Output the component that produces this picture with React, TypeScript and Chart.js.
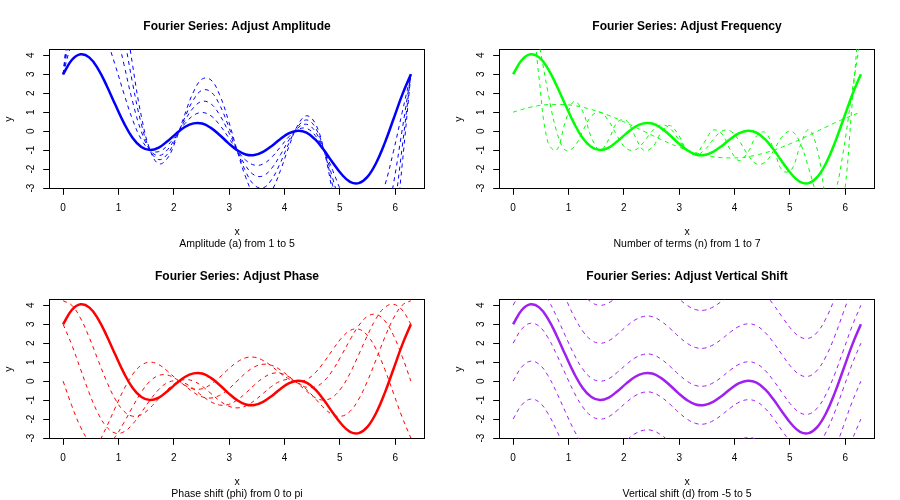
import React, { useEffect, useRef } from 'react';
import { Chart, registerables } from 'chart.js';

Chart.register(...registerables);

// ---- data (x sampled on [0, 2π]) ----
const X = [0, 0.157, 0.314, 0.471, 0.628, 0.785, 0.942, 1.1, 1.257, 1.414, 1.571, 1.728, 1.885, 2.042, 2.199, 2.356, 2.513, 2.67, 2.827, 2.985, 3.142, 3.299, 3.456, 3.613, 3.77, 3.927, 4.084, 4.241, 4.398, 4.555, 4.712, 4.869, 5.027, 5.184, 5.341, 5.498, 5.655, 5.812, 5.969, 6.126, 6.283];
const X_TICKS = [0, 1, 2, 3, 4, 5, 6];
const Y_TICKS = [-3, -2, -1, 0, 1, 2, 3, 4];
const Y_MIN = -3.04;
const Y_MAX = 4.32;

const BASE = [3.0, 3.75, 4.05, 3.89, 3.3, 2.41, 1.4, 0.42, -0.36, -0.84, -1.0, -0.87, -0.53, -0.13, 0.22, 0.41, 0.4, 0.17, -0.2, -0.63, -1.0, -1.23, -1.26, -1.09, -0.78, -0.41, -0.11, 0.02, -0.08, -0.44, -1.0, -1.65, -2.26, -2.67, -2.74, -2.41, -1.68, -0.62, 0.64, 1.91, 3.0];

// amplitude a = 2..5
const AMP_2 = [3, 4.67, 5.76, 6.14, 5.79, 4.83, 3.47, 1.97, 0.59, -0.44, -1, -1.08, -0.76, -0.2, 0.39, 0.83, 0.98, 0.81, 0.33, -0.32, -1, -1.53, -1.79, -1.73, -1.37, -0.83, -0.28, 0.09, 0.14, -0.23, -1, -2.06, -3.21, -4.21, -4.81, -4.83, -4.17, -2.87, -1.06, 0.99, 3];
const AMP_3 = [3, 5.59, 7.47, 8.39, 8.28, 7.24, 5.54, 3.51, 1.54, -0.03, -1, -1.29, -0.98, -0.28, 0.56, 1.24, 1.57, 1.44, 0.86, -0.02, -1, -1.83, -2.32, -2.36, -1.95, -1.24, -0.45, 0.17, 0.36, -0.02, -1, -2.47, -4.16, -5.75, -6.88, -7.24, -6.66, -5.12, -2.77, 0.07, 3];
const AMP_4 = [3, 6.51, 9.17, 10.64, 10.77, 9.66, 7.6, 5.05, 2.5, 0.37, -1, -1.5, -1.21, -0.35, 0.72, 1.66, 2.16, 2.07, 1.39, 0.28, -1, -2.13, -2.85, -2.99, -2.54, -1.66, -0.61, 0.24, 0.59, 0.2, -1, -2.87, -5.11, -7.3, -8.95, -9.66, -9.15, -7.37, -4.48, -0.85, 3];
const AMP_5 = [3, 7.43, 10.88, 12.89, 13.26, 12.07, 9.67, 6.6, 3.45, 0.78, -1, -1.72, -1.43, -0.43, 0.89, 2.07, 2.75, 2.7, 1.92, 0.58, -1, -2.43, -3.38, -3.62, -3.13, -2.07, -0.78, 0.32, 0.81, 0.41, -1, -3.28, -6.06, -8.84, -11.02, -12.07, -11.64, -9.62, -6.18, -1.77, 3];

// number of terms n = 1, 3, 5, 7
const TERMS_1 = [1.0, 1.14, 1.26, 1.35, 1.4, 1.41, 1.4, 1.35, 1.26, 1.14, 1.0, 0.83, 0.64, 0.44, 0.22, 0, -0.22, -0.44, -0.64, -0.83, -1.0, -1.14, -1.26, -1.35, -1.4, -1.41, -1.4, -1.35, -1.26, -1.14, -1.0, -0.83, -0.64, -0.44, -0.22, 0, 0.22, 0.44, 0.64, 0.83, 1.0];
const TERMS_5 = [5, 6.56, 6.31, 4.53, 2.08, 0, -1.0, -0.84, 0.0, 0.79, 1.0, 0.53, -0.27, -0.9, -1.0, -0.59, 0, 0.33, 0.16, -0.41, -1.0, -1.25, -1.0, -0.45, 0, 0, -0.51, -1.24, -1.73, -1.63, -1.0, -0.26, 0, -0.61, -1.96, -3.41, -4.08, -3.29, -1.0, 2.13, 5];
const TERMS_7 = [7, 9.3, 7.18, 2.74, -0.58, -1.0, 0.48, 1.57, 1.04, -0.33, -1.0, -0.43, 0.48, 0.57, -0.25, -1.0, -0.86, -0.1, 0.3, -0.19, -1.0, -1.19, -0.58, 0.05, -0.14, -1.0, -1.55, -1.12, -0.25, -0.07, -1.0, -2.09, -2.04, -0.8, 0.08, -1.0, -3.66, -5.38, -3.66, 1.47, 7];

// phase phi = pi/4, pi/2, 3pi/4, pi
const PHASE_1 = [4.24, 4.0, 3.32, 2.31, 1.14, 0, -0.95, -1.59, -1.85, -1.77, -1.41, -0.92, -0.44, -0.08, 0.08, 0, -0.27, -0.65, -1.03, -1.31, -1.41, -1.31, -1.03, -0.65, -0.27, 0, 0.08, -0.08, -0.44, -0.92, -1.41, -1.77, -1.85, -1.59, -0.95, 0, 1.14, 2.31, 3.32, 4.0, 4.24];
const PHASE_2 = [3.0, 1.91, 0.64, -0.62, -1.68, -2.41, -2.74, -2.67, -2.26, -1.65, -1.0, -0.44, -0.08, 0.02, -0.11, -0.41, -0.78, -1.09, -1.26, -1.23, -1.0, -0.63, -0.2, 0.17, 0.4, 0.41, 0.22, -0.13, -0.53, -0.87, -1.0, -0.84, -0.36, 0.42, 1.4, 2.41, 3.3, 3.89, 4.05, 3.75, 3.0];
const PHASE_3 = [0, -1.3, -2.41, -3.18, -3.52, -3.41, -2.93, -2.18, -1.35, -0.57, 0, 0.3, 0.32, 0.11, -0.24, -0.59, -0.83, -0.89, -0.75, -0.43, 0, 0.43, 0.75, 0.89, 0.83, 0.59, 0.24, -0.11, -0.32, -0.3, 0, 0.57, 1.35, 2.18, 2.93, 3.41, 3.52, 3.18, 2.41, 1.3, 0];
const PHASE_4 = [-3.0, -3.75, -4.05, -3.89, -3.3, -2.41, -1.4, -0.42, 0.36, 0.84, 1.0, 0.87, 0.53, 0.13, -0.22, -0.41, -0.4, -0.17, 0.2, 0.63, 1.0, 1.23, 1.26, 1.09, 0.78, 0.41, 0.11, -0.02, 0.08, 0.44, 1.0, 1.65, 2.26, 2.67, 2.74, 2.41, 1.68, 0.62, -0.64, -1.91, -3.0];

// vertical shift d = -5, -3, -1, 1, 3, 5
const SHIFT_M5 = [-2.0, -1.25, -0.95, -1.11, -1.7, -2.59, -3.6, -4.58, -5.36, -5.84, -6.0, -5.87, -5.53, -5.13, -4.78, -4.59, -4.6, -4.83, -5.2, -5.63, -6.0, -6.23, -6.26, -6.09, -5.78, -5.41, -5.11, -4.98, -5.08, -5.44, -6.0, -6.65, -7.26, -7.67, -7.74, -7.41, -6.68, -5.62, -4.36, -3.09, -2.0];
const SHIFT_M3 = [0.0, 0.75, 1.05, 0.89, 0.3, -0.59, -1.6, -2.58, -3.36, -3.84, -4.0, -3.87, -3.53, -3.13, -2.78, -2.59, -2.6, -2.83, -3.2, -3.63, -4.0, -4.23, -4.26, -4.09, -3.78, -3.41, -3.11, -2.98, -3.08, -3.44, -4.0, -4.65, -5.26, -5.67, -5.74, -5.41, -4.68, -3.62, -2.36, -1.09, 0.0];
const SHIFT_M1 = [2.0, 2.75, 3.05, 2.89, 2.3, 1.41, 0.4, -0.58, -1.36, -1.84, -2.0, -1.87, -1.53, -1.13, -0.78, -0.59, -0.6, -0.83, -1.2, -1.63, -2.0, -2.23, -2.26, -2.09, -1.78, -1.41, -1.11, -0.98, -1.08, -1.44, -2.0, -2.65, -3.26, -3.67, -3.74, -3.41, -2.68, -1.62, -0.36, 0.91, 2.0];
const SHIFT_P1 = [4.0, 4.75, 5.05, 4.89, 4.3, 3.41, 2.4, 1.42, 0.64, 0.16, 0.0, 0.13, 0.47, 0.87, 1.22, 1.41, 1.4, 1.17, 0.8, 0.37, 0.0, -0.23, -0.26, -0.09, 0.22, 0.59, 0.89, 1.02, 0.92, 0.56, 0.0, -0.65, -1.26, -1.67, -1.74, -1.41, -0.68, 0.38, 1.64, 2.91, 4.0];
const SHIFT_P3 = [6.0, 6.75, 7.05, 6.89, 6.3, 5.41, 4.4, 3.42, 2.64, 2.16, 2.0, 2.13, 2.47, 2.87, 3.22, 3.41, 3.4, 3.17, 2.8, 2.37, 2.0, 1.77, 1.74, 1.91, 2.22, 2.59, 2.89, 3.02, 2.92, 2.56, 2.0, 1.35, 0.74, 0.33, 0.26, 0.59, 1.32, 2.38, 3.64, 4.91, 6.0];
const SHIFT_P5 = [8.0, 8.75, 9.05, 8.89, 8.3, 7.41, 6.4, 5.42, 4.64, 4.16, 4.0, 4.13, 4.47, 4.87, 5.22, 5.41, 5.4, 5.17, 4.8, 4.37, 4.0, 3.77, 3.74, 3.91, 4.22, 4.59, 4.89, 5.02, 4.92, 4.56, 4.0, 3.35, 2.74, 2.33, 2.26, 2.59, 3.32, 4.38, 5.64, 6.91, 8.0];

const PANELS = [
  { title: 'Fourier Series: Adjust Amplitude', sub: 'Amplitude (a) from 1 to 5', color: '#0000FF', dashed: [AMP_2, AMP_3, AMP_4, AMP_5] },
  { title: 'Fourier Series: Adjust Frequency', sub: 'Number of terms (n) from 1 to 7', color: '#00FF00', dashed: [TERMS_1, TERMS_5, TERMS_7] },
  { title: 'Fourier Series: Adjust Phase', sub: 'Phase shift (phi) from 0 to pi', color: '#FF0000', dashed: [PHASE_1, PHASE_2, PHASE_3, PHASE_4] },
  { title: 'Fourier Series: Adjust Vertical Shift', sub: 'Vertical shift (d) from -5 to 5', color: '#A020F0', dashed: [SHIFT_M5, SHIFT_M3, SHIFT_M1, SHIFT_P1, SHIFT_P3, SHIFT_P5] },
];

const FONT = "'Liberation Sans', Arial, sans-serif";

const framePlugin = {
  id: 'frame',
  beforeDatasetsDraw(chart: any) {
    const { ctx, chartArea } = chart;
    const l = Math.round(chartArea.left) + 0.5;
    const t = Math.round(chartArea.top) + 0.5;
    const r = Math.round(chartArea.right) - 0.5;
    const b = Math.round(chartArea.bottom) - 0.5;
    ctx.save();
    ctx.strokeStyle = '#000';
    ctx.lineWidth = 1;
    ctx.strokeRect(l, t, r - l, b - t);
    ctx.restore();
  },
};

function Panel({ cfg }: { cfg: any }) {
  const ref = useRef<HTMLCanvasElement>(null);
  useEffect(() => {
    const toPts = (ys: number[]) => X.map((x, i) => ({ x, y: ys[i] }));
    const datasets: any[] = cfg.dashed.map((ys: number[]) => ({
      data: toPts(ys),
      borderColor: cfg.color,
      borderWidth: 1,
      borderDash: [4, 4],
      pointRadius: 0,
      tension: 0.4,
      fill: false,
    }));
    datasets.push({
      data: toPts(BASE),
      borderColor: cfg.color,
      borderWidth: 2.5,
      pointRadius: 0,
      tension: 0.4,
      fill: false,
    });
    const chart = new Chart(ref.current as HTMLCanvasElement, {
      type: 'line',
      data: { datasets },
      options: {
        animation: false,
        responsive: false,
        events: [],
        layout: { padding: { left: 0, right: 25.2, top: 0, bottom: 0 } },
        plugins: {
          legend: { display: false },
          tooltip: { enabled: false },
          title: {
            display: true,
            text: cfg.title,
            fullSize: false,
            color: '#000',
            font: { family: FONT, size: 12, weight: 'bold', lineHeight: 1.2 },
            padding: { top: 19.9, bottom: 14.9 },
          },
        },
        scales: {
          x: {
            type: 'linear',
            min: -0.2513,
            max: 6.5345,
            afterBuildTicks: (s: any) => { s.ticks = X_TICKS.map((v) => ({ value: v })); },
            afterFit: (s: any) => { s.height = 61.2; },
            grid: { display: true, drawOnChartArea: false, drawTicks: true, tickLength: 6, color: '#000', lineWidth: 1 },
            border: { display: false },
            ticks: { color: '#000', font: { family: FONT, size: 10 }, padding: 7.6, maxRotation: 0, autoSkip: false },
            title: {
              display: true,
              text: ['x', cfg.sub],
              color: '#000',
              font: { family: FONT, size: 10.5, lineHeight: '12px' },
              padding: { top: 0, bottom: 0 },
            },
          },
          y: {
            type: 'linear',
            min: Y_MIN,
            max: Y_MAX,
            afterBuildTicks: (s: any) => { s.ticks = Y_TICKS.map((v) => ({ value: v })); },
            afterFit: (s: any) => { s.width = 49.2; },
            grid: { display: true, drawOnChartArea: false, drawTicks: true, tickLength: 6, color: '#000', lineWidth: 1 },
            border: { display: false },
            ticks: { color: '#000', font: { family: FONT, size: 10 }, padding: 7.5, minRotation: 90, maxRotation: 90, crossAlign: 'center', autoSkip: false },
            title: {
              display: true,
              text: 'y',
              color: '#000',
              font: { family: FONT, size: 10.5, lineHeight: '12px' },
              padding: { top: 3, bottom: 0 },
            },
          },
        },
      } as any,
      plugins: [framePlugin],
    });
    return () => chart.destroy();
  }, [cfg]);
  return (
    <div style={{ width: 450, height: 250, position: 'relative' }}>
      <canvas ref={ref} width={450} height={250} style={{ display: 'block', width: 450, height: 250 }} />
    </div>
  );
}

export default function App() {
  return (
    <div
      style={{
        position: 'absolute',
        left: 0,
        top: 0,
        width: 900,
        height: 500,
        background: '#fff',
        display: 'grid',
        gridTemplateColumns: '450px 450px',
        gridTemplateRows: '250px 250px',
      }}
    >
      {PANELS.map((p) => (
        <Panel key={p.title} cfg={p} />
      ))}
    </div>
  );
}
